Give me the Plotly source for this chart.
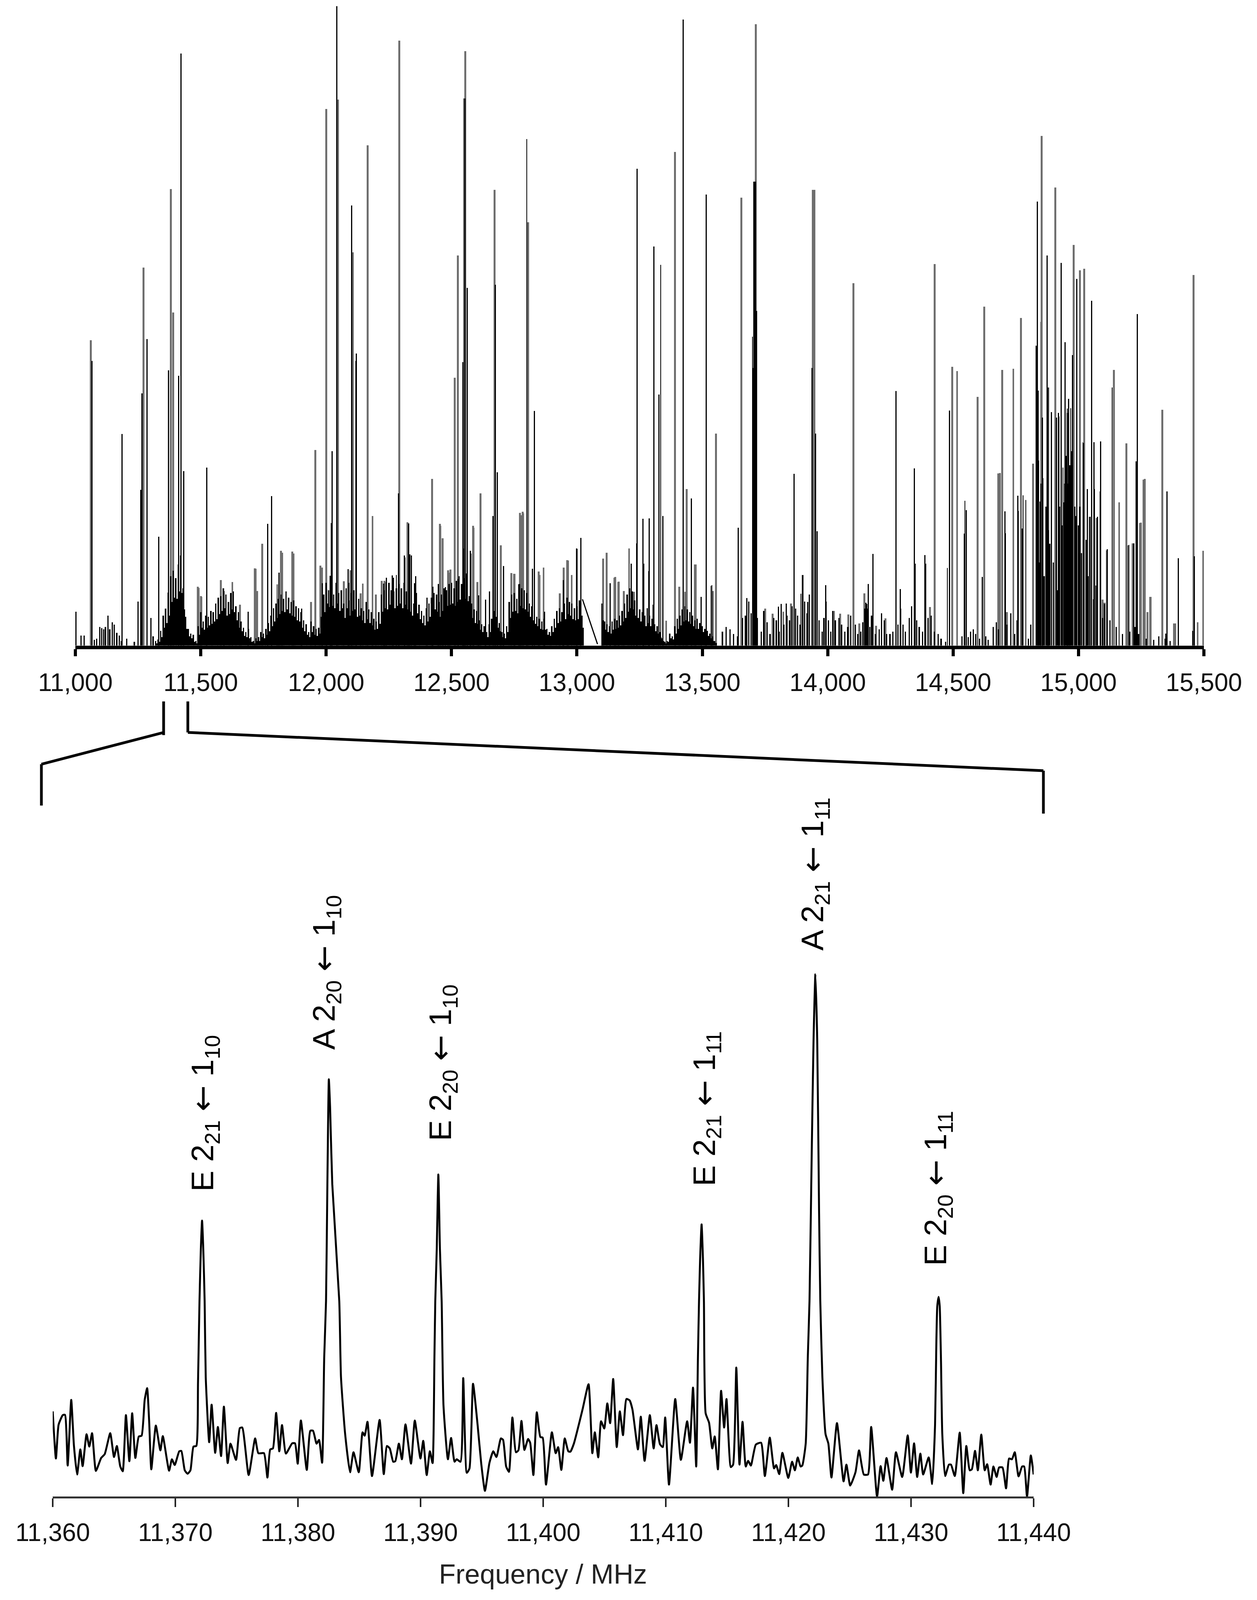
import plotly.graph_objects as go

PAGE_W = 3219
PAGE_H = 4179
FONT = "Liberation Sans"

# upper survey spectrum, MHz and relative intensity
band_a_freq = list(range(11320, 13030, 10))
band_a_int = [
    10, 13, 32, 65, 80, 115, 150, 162, 146, 175,
    195, 124, 62, 36, 26, 23, 10, 42, 72, 52,
    65, 62, 75, 72, 91, 104, 107, 124, 110, 94,
    114, 117, 85, 72, 52, 39, 29, 36, 18, 10,
    16, 18, 29, 26, 36, 49, 65, 81, 91, 101,
    110, 101, 117, 104, 94, 98, 85, 81, 72, 55,
    46, 29, 52, 42, 36, 39, 62, 110, 136, 120,
    127, 110, 136, 114, 120, 91, 124, 98, 114, 120,
    91, 101, 81, 75, 94, 78, 72, 58, 52, 72,
    110, 120, 114, 136, 120, 117, 124, 133, 124, 136,
    117, 110, 98, 91, 114, 88, 75, 65, 81, 91,
    104, 114, 110, 94, 110, 124, 120, 133, 136, 124,
    140, 150, 133, 146, 156, 107, 91, 78, 75, 55,
    46, 42, 29, 46, 58, 75, 62, 49, 29, 26,
    42, 94, 110, 114, 101, 133, 124, 120, 114, 91,
    85, 75, 62, 58, 52, 58, 36, 29, 42, 58,
    75, 81, 72, 91, 104, 94, 91, 81, 85, 98,
    65,
]
# lower solid part between the teeth of band a, same frequencies +5 MHz
floor_a_int = [
    5, 8, 18, 39, 49, 65, 94, 104, 101, 117,
    114, 78, 36, 20, 16, 8, 5, 23, 39, 34,
    39, 44, 47, 52, 57, 68, 75, 81, 65, 68,
    78, 72, 55, 39, 31, 21, 18, 16, 8, 5,
    10, 10, 18, 16, 23, 31, 42, 52, 60, 68,
    75, 72, 78, 70, 65, 62, 55, 52, 39, 31,
    23, 18, 29, 23, 21, 26, 39, 72, 91, 83,
    86, 81, 91, 75, 81, 60, 81, 65, 75, 78,
    62, 65, 55, 49, 57, 49, 44, 34, 36, 47,
    73, 81, 78, 88, 78, 81, 86, 91, 81, 88,
    78, 73, 65, 60, 70, 57, 49, 44, 52, 62,
    70, 78, 73, 62, 75, 81, 86, 88, 91, 86,
    94, 99, 91, 101, 96, 68, 60, 49, 47, 34,
    29, 23, 18, 29, 39, 49, 39, 31, 18, 16,
    29, 60, 73, 75, 70, 86, 81, 78, 73, 62,
    55, 47, 42, 36, 34, 34, 23, 21, 29, 39,
    49, 52, 49, 57, 68, 65, 57, 55, 57, 62,
    39,
]
band_b_freq = list(range(13100, 13560, 10))
band_b_int = [
    91, 52, 46, 42, 52, 58, 55, 65, 75, 91,
    110, 124, 117, 98, 94, 78, 72, 65, 81, 65,
    58, 46, 42, 29, 16, 8, 10, 26, 20, 42,
    58, 65, 78, 85, 78, 72, 65, 55, 58, 49,
    42, 36, 32, 26, 20, 10,
]
floor_b_int = [
    55, 34, 29, 26, 34, 36, 39, 44, 52, 60,
    73, 81, 78, 65, 60, 52, 44, 42, 49, 42,
    36, 31, 26, 18, 10, 5, 8, 16, 13, 26,
    36, 44, 52, 55, 52, 47, 42, 36, 36, 31,
    29, 23, 21, 16, 10, 6,
]

weak_freq = [
    11022, 11035, 11075, 11085, 11097, 11105, 11113, 11120, 11130, 11137,
    11147, 11155, 11165, 11175, 11183, 11205, 11235, 11310,
    13580, 13595, 13610, 13625, 13640, 13660, 13672, 13685, 13695, 13720,
    13735, 13745, 13758, 13770, 13785, 13795, 13806, 13815, 13825, 13838,
    13848, 13858, 13872, 13880, 13890, 13908, 13918, 13926, 13965, 13978,
    13985, 14003, 14012, 14020, 14030, 14045, 14055, 14068, 14080, 14092,
    14110, 14120, 14132, 14140, 14148, 14155, 14168, 14175, 14190, 14205,
    14215, 14225, 14235, 14248, 14260, 14280, 14290, 14300, 14310, 14325,
    14335, 14345, 14355, 14365, 14378, 14400, 14412, 14425, 14440, 14452,
    14470, 14535, 14560, 14570, 14580, 14590, 14605, 14630, 14640, 14660,
    14672, 14680, 14715, 14730, 14745, 14755, 14800, 14810, 14840, 14845,
    14850, 14863, 14870, 14880, 14885, 14900, 14915, 14925, 14935, 14942,
    14945, 14952, 14958, 14965, 14972, 14985, 14990, 15000, 15005, 15012,
    15030, 15038, 15060, 15070, 15096, 15104, 15125, 15150, 15175, 15205,
    15225, 15240, 15270, 15300, 15320, 15345, 15365,
]
weak_int = [
    22, 22, 12, 15, 40, 38, 35, 40, 65, 35,
    50, 45, 28, 22, 10, 15, 8, 20,
    30, 40, 35, 25, 20, 60, 65, 95, 70, 60,
    30, 75, 50, 25, 60, 55, 30, 90, 45, 65,
    55, 85, 80, 65, 45, 95, 70, 110, 55, 30,
    60, 55, 30, 75, 55, 60, 45, 30, 40, 65,
    45, 25, 30, 50, 80, 90, 40, 65, 25, 35,
    70, 55, 25, 25, 30, 45, 80, 45, 30, 60,
    85, 120, 55, 40, 30, 60, 65, 30, 25, 15,
    8, 20, 18, 30, 35, 25, 15, 20, 12, 40,
    50, 35, 45, 70, 25, 55, 15, 45, 400, 180,
    350, 150, 300, 250, 220, 180, 120, 300, 260, 310,
    350, 410, 350, 390, 420, 300, 280, 260, 300, 200,
    170, 150, 100, 130, 60, 90, 55, 40, 25, 30,
    40, 25, 15, 12, 20, 15, 10,
]

gray_freq = [
    11061, 11272, 11381, 11390, 11488, 11500, 11715, 11745, 11820, 11865,
    11957, 11977, 12001, 12048, 12106, 12166, 12185, 12222, 12232, 12292,
    12324, 12422, 12453, 12464, 12486, 12513, 12525, 12550, 12555, 12586,
    12615, 12672, 12697, 12739, 12750, 12773, 12784, 12806, 12961, 12848,
    12867, 13104, 13119, 13153, 13167, 13208, 13391, 13437, 13473, 13555,
    13655, 13713, 13941, 13944, 13947, 14103, 14427, 14497, 14516, 14598,
    14624, 14687, 14696, 14740, 14771, 14819, 14853, 14907, 14981, 15006,
    15023, 15141, 15162, 15191, 15249, 15264, 15288, 15334, 15459, 15386,
    15498,
    # smaller grey lines
    11492, 11502, 11580, 11626, 11656, 11719, 11725, 11805, 11825, 11870,
    11940, 11956, 11983, 12070, 12091, 12097, 12138, 12146, 12198, 12236,
    12313, 12456, 12465, 12488, 12495, 12577, 12588, 12603, 12696, 12751,
    12776, 12785, 12851, 12931, 12947, 12964, 12979, 13001, 13150, 13165,
    13187, 13227, 13356, 13408, 13432, 13470, 13535, 13542, 13751, 13780,
    13823, 13853, 13900, 14025, 14049, 14082, 14126, 14146, 14193, 14230,
    14408, 14680, 14715, 14851, 14879, 14938, 14955, 15019, 15044, 15073,
    15096, 15104, 15113, 15197, 15216, 15245, 15259, 15275, 15285, 15380,
    15475,
]
gray_int = [
    660, 817, 987, 720, 127, 107, 167, 220, 205, 203,
    423, 173, 1160, 1180, 850, 1081, 280, 140, 140, 1308,
    267, 360, 263, 232, 163, 579, 843, 1183, 1285, 259,
    329, 985, 217, 157, 155, 287, 289, 915, 185, 160,
    169, 188, 201, 148, 138, 210, 1067, 338, 175, 458,
    968, 1343, 985, 985, 985, 783, 825, 603, 593, 538,
    733, 373, 596, 598, 708, 393, 1102, 990, 866, 811,
    815, 596, 310, 437, 266, 360, 105, 510, 801, 48,
    205,
    125, 105, 142, 137, 88, 166, 118, 132, 201, 199,
    94, 107, 169, 139, 136, 163, 113, 134, 110, 137,
    191, 259, 229, 158, 164, 199, 255, 137, 215, 155,
    282, 286, 153, 113, 169, 184, 153, 209, 147, 137,
    118, 116, 54, 127, 116, 175, 129, 118, 80, 69,
    73, 91, 153, 75, 69, 67, 48, 113, 43, 59,
    83, 372, 72, 700, 558, 385, 503, 440, 278, 276,
    99, 93, 206, 217, 221, 265, 359, 72, 105, 48,
    50,
]
black_freq = [
    11003, 11066, 11186, 11250, 11261, 11265, 11286, 11301, 11332, 11372,
    11412, 11421, 11432, 11524, 11767, 11783, 12020, 12024, 12042, 12088,
    12102, 12118, 12121, 12263, 12289, 12312, 12334, 12352, 12546, 12553,
    12563, 12575, 12665, 12675, 12683, 12800, 12831, 12945, 12998, 13015,
    13100, 13239, 13240, 13266, 13288, 13307, 13327, 13334, 13343, 13423,
    13456, 13515, 13538, 13643, 13678, 13700, 13702, 13705, 13708, 13711,
    13717, 13866, 13900, 13937, 13951, 13958, 13994, 14152, 14161, 14181,
    14272, 14345, 14390, 14477, 14485, 14547, 14552, 14617, 14708, 14759,
    14779, 14790, 14831, 14836, 14839, 14856, 14875, 14878, 14892, 14921,
    14931, 14947, 14960, 14969, 14976, 14993, 15020, 15046, 15053, 15063,
    15076, 15088, 15114, 15134, 15201, 15220, 15230, 15235, 15353, 15462,
    # smaller black lines
    11592, 11689, 11812, 11903, 11985, 12016, 12002, 12229, 12240, 12268,
    12280, 12329, 12340, 12357, 12402, 12425, 12447, 12475, 12527, 12547,
    12608, 12636, 12651, 12708, 12768, 12823, 12871, 13132, 13217, 13263,
    13286, 13303, 13495, 13677, 13803, 13835, 13893, 13921, 13992, 14160,
    14290, 14348, 14387, 14544, 14707, 14758, 14775, 14846, 14858, 14912,
    14920, 14955, 14965, 15030, 15035, 15061, 15086, 15348, 15398, 15456,
    15484,
]
black_int = [
    73, 615, 457, 95, 337, 545, 663, 60, 235, 595,
    583, 1280, 377, 385, 263, 323, 265, 420, 1383, 165,
    951, 615, 631, 152, 329, 195, 197, 135, 613, 1183,
    773, 205, 280, 780, 375, 1095, 507, 142, 210, 233,
    88, 221, 1031, 177, 275, 863, 543, 823, 280, 1353,
    318, 975, 131, 255, 103, 668, 600, 1003, 1003, 1003,
    723, 371, 153, 600, 458, 247, 95, 93, 133, 198,
    550, 383, 177, 168, 508, 313, 293, 148, 243, 291,
    325, 315, 648, 960, 551, 493, 843, 558, 505, 495,
    827, 656, 533, 513, 628, 793, 438, 278, 745, 338,
    278, 441, 208, 558, 218, 221, 398, 717, 333, 193,
    118, 73, 158, 80, 135, 151, 121, 134, 147,
    147, 153, 264, 195, 150, 104, 127, 133, 126, 144, 210,
    109, 99, 117, 172, 132, 166, 73, 135, 177,
    274, 161, 88, 105, 91, 84, 91, 112, 94, 131,
    80, 122, 177, 196, 242, 290, 324, 253, 311, 362,
    493, 503, 512, 190, 229, 338, 440, 333, 26, 189,
    32,
]

# the gap in the survey, drawn as one sloping line
gap_freq = [13022, 13082]
gap_int = [100, 3]

top_ticks = [11000, 11500, 12000, 12500, 13000, 13500, 14000, 14500, 15000, 15500]

# lower expanded spectrum, MHz above 11,360 and relative intensity
low_offset = [
    0.00, 0.26, 0.48, 0.82, 1.00, 1.22, 1.51, 1.73, 1.99, 2.25, 2.44, 2.76, 2.98, 3.21, 3.52,
    3.95, 4.24, 4.69, 5.00, 5.23, 5.51, 5.71, 5.97, 6.25, 6.48, 6.74, 7.02, 7.25, 7.50, 7.70,
    7.87, 8.04, 8.41, 8.78, 8.98, 9.49, 9.72, 9.95, 10.32, 10.49, 10.77, 11.00, 11.23, 11.48, 11.71,
    11.85, 11.97, 12.08, 12.18, 12.28, 12.39, 12.48, 12.76, 12.96, 13.25, 13.47, 13.73, 13.96, 14.27, 14.50,
    14.95, 15.26, 15.46, 15.98, 16.51, 16.77, 17.23, 17.51, 17.74, 17.96, 18.22, 18.48, 18.70, 19.02, 19.53,
    19.76, 19.98, 20.24, 20.72, 21.01, 21.23, 21.52, 21.72, 21.97, 22.14, 22.29, 22.40, 22.52, 22.62, 22.80,
    23.37, 23.51, 23.85, 24.25, 24.53, 24.96, 25.27, 25.44, 25.67, 26.04, 26.66, 27.00, 27.26, 27.49, 27.77,
    27.94, 28.23, 28.48, 28.77, 29.22, 29.53, 29.99, 30.22, 30.50, 30.76, 30.98, 31.13, 31.20, 31.32, 31.45,
    31.58, 31.72, 31.87, 32.23, 32.49, 32.77, 32.95, 33.26, 33.48, 33.77, 33.99, 34.28, 34.65, 34.94, 35.25,
    35.62, 35.93, 36.19, 36.55, 36.73, 36.98, 37.21, 37.49, 37.78, 37.98, 38.23, 38.47, 38.77, 38.94, 39.20,
    39.48, 39.77, 39.96, 40.23, 40.71, 41.02, 41.22, 41.48, 41.76, 42.05, 42.22, 42.50, 43.21, 43.70, 44.01,
    44.21, 44.49, 44.72, 44.98, 45.23, 45.46, 45.71, 46.00, 46.25, 46.51, 46.79, 47.05, 47.28, 47.73, 47.96,
    48.27, 48.70, 49.01, 49.24, 49.52, 49.75, 49.95, 50.26, 50.77, 51.23, 51.74, 51.97, 52.22, 52.48, 52.62,
    52.71, 52.80, 52.92, 53.03, 53.11, 53.25, 53.53, 53.79, 53.99, 54.25, 54.51, 54.76, 54.95, 55.30, 55.49,
    55.75, 56.01, 56.26, 56.52, 56.72, 56.94, 57.34, 57.77, 58.08, 58.48, 58.83, 59.00, 59.25, 59.51, 59.99,
    60.30, 60.53, 60.76, 60.99, 61.13, 61.41, 61.58, 61.72, 61.90, 62.05, 62.20, 62.35, 62.50, 62.60, 62.77,
    63.03, 63.26, 63.51, 63.96, 64.50, 64.73, 65.04, 65.47, 65.76, 66.15, 66.49, 66.75, 67.23, 67.52, 67.74,
    68.00, 68.46, 68.77, 69.28, 69.73, 69.99, 70.25, 70.50, 70.76, 70.99, 71.44, 71.73, 71.96, 72.07, 72.14,
    72.25, 72.34, 72.44, 72.55, 72.78, 73.09, 73.26, 73.57, 73.97, 74.26, 74.51, 74.79, 74.96, 75.22, 75.45,
    75.73, 76.01, 76.21, 76.49, 76.72, 76.98, 77.18, 77.46, 77.75, 78.00, 78.23, 78.46, 78.77, 79.06, 79.23,
    79.46, 79.77, 80.00,
]
low_int = [
    448, 200, 378, 428, 430, 163, 508, 268, 116, 248, 160, 328, 263, 333, 135,
    203, 223, 333, 208, 266, 158, 133, 428, 186, 438, 203, 316, 320, 508, 570,
    388, 143, 373, 243, 318, 136, 196, 166, 238, 240, 138, 120, 138, 263, 266,
    600, 1028, 1300, 1451, 1300, 1028, 628, 286, 483, 230, 366, 213, 473, 176, 278,
    193, 360, 363, 113, 306, 228, 228, 100, 248, 253, 440, 238, 376, 226, 280,
    280, 173, 400, 140, 346, 346, 278, 298, 178, 728, 1028, 1642, 2194, 2050, 1642,
    1028, 628, 328, 128, 233, 128, 338, 320, 393, 108, 403, 118, 266, 253, 183,
    186, 278, 196, 380, 173, 400, 200, 293, 113, 238, 176, 728, 1028, 1300, 1693,
    1300, 1028, 478, 196, 308, 183, 196, 183, 623, 125, 148, 593, 378, 178, 30,
    178, 238, 208, 306, 298, 158, 130, 416, 233, 243, 398, 245, 303, 283, 113,
    443, 313, 310, 63, 338, 228, 260, 140, 306, 238, 236, 278, 458, 591, 228,
    338, 206, 396, 358, 490, 386, 618, 260, 448, 323, 513, 506, 458, 248, 420,
    188, 428, 253, 376, 276, 260, 416, 63, 513, 193, 396, 283, 573, 158, 728,
    1028, 1250, 1431, 1250, 1028, 438, 388, 253, 316, 143, 556, 363, 513, 155, 168,
    678, 168, 393, 158, 188, 163, 273, 283, 108, 310, 148, 166, 118, 230, 98,
    183, 138, 206, 158, 163, 278, 728, 1028, 1800, 2400, 2746, 2400, 1500, 1028, 628,
    328, 278, 100, 386, 80, 168, 58, 128, 243, 116, 116, 366, 0, 160, 83,
    203, 36, 233, 103, 322, 126, 280, 103, 226, 116, 206, 66, 378, 828, 1000,
    1050, 1000, 728, 328, 108, 168, 168, 108, 336, 18, 266, 138, 143, 240, 138,
    326, 138, 170, 63, 158, 103, 153, 153, 43, 200, 196, 233, 106, 158, 158,
    0, 216, 116,
]
low_ticks = [11360, 11370, 11380, 11390, 11400, 11410, 11420, 11430, 11440]
low_freq = [11360 + d for d in low_offset]

ARROW = '<span style="font-family:DejaVu Sans">←</span>'
peak_labels = [
    f"E 2<sub>21</sub> {ARROW} 1<sub>10</sub>",
    f"A 2<sub>20</sub> {ARROW} 1<sub>10</sub>",
    f"E 2<sub>20</sub> {ARROW} 1<sub>10</sub>",
    f"E 2<sub>21</sub> {ARROW} 1<sub>11</sub>",
    f"A 2<sub>21</sub> {ARROW} 1<sub>11</sub>",
    f"E 2<sub>20</sub> {ARROW} 1<sub>11</sub>",
]
label_x = [523, 835, 1133, 1808, 2086, 2400]
label_y = [2908, 2540, 2776, 2896, 2283, 3104]

# the browser leaves an 8 px body margin round the plot
W = PAGE_W - 16
H = PAGE_H - 16


def px(x):
    return (x - 8) / W


def py(y):
    return 1 - (y - 8) / H


fig = go.Figure()

fig.add_trace(go.Bar(x=gray_freq, y=gray_int, width=7.5, marker=dict(color="#6e6e6e", line_width=0)))
fig.add_trace(go.Bar(x=weak_freq, y=weak_int, width=5, marker=dict(color="#000000", line_width=0)))
fig.add_trace(go.Bar(x=band_a_freq, y=band_a_int, width=5.5, marker=dict(color="#000000", line_width=0)))
fig.add_trace(go.Bar(x=band_b_freq, y=band_b_int, width=5.5, marker=dict(color="#000000", line_width=0)))
fig.add_trace(go.Bar(
    x=[f + 5 for f in band_a_freq], y=floor_a_int, width=5.5, marker=dict(color="#000000", line_width=0),
))
fig.add_trace(go.Bar(
    x=[f + 5 for f in band_b_freq], y=floor_b_int, width=5.5, marker=dict(color="#000000", line_width=0),
))
fig.add_trace(go.Bar(x=black_freq, y=black_int, width=4.5, marker=dict(color="#000000", line_width=0)))
fig.add_trace(go.Scatter(x=gap_freq, y=gap_int, mode="lines", line=dict(color="#000000", width=3)))

fig.add_trace(go.Scatter(
    x=low_freq, y=low_int, mode="lines", xaxis="x2", yaxis="y2",
    line=dict(color="#000000", width=5, shape="spline", smoothing=0.5),
))

# bracket from the survey to the expanded part
bracket = [
    ((419, 1832), (419, 1920)),
    ((419, 1913), (106, 1996)),
    ((106, 1996), (106, 2104)),
    ((481, 1832), (481, 1913)),
    ((481, 1913), (2672, 2013)),
    ((2672, 2013), (2672, 2125)),
]
for a, b in bracket:
    fig.add_shape(
        type="line", xref="paper", yref="paper",
        x0=px(a[0]), y0=py(a[1]), x1=px(b[0]), y1=py(b[1]),
        line=dict(color="#000000", width=7),
    )

for text, x, y in zip(peak_labels, label_x, label_y):
    fig.add_annotation(
        text=text, xref="paper", yref="paper", x=px(x), y=py(y),
        textangle=-90, showarrow=False, xanchor="center", yanchor="middle",
        font=dict(family=FONT, size=80, color="#000000"),
    )

fig.add_annotation(
    text="Frequency / MHz", xref="paper", yref="paper", x=px(1390), y=py(4112),
    showarrow=False, xanchor="center", yanchor="middle",
    font=dict(family=FONT, size=70, color="#222222"),
)

# no fixed width or height: the figure fills whatever the window gives it
fig.update_layout(
    margin=dict(l=0, r=0, t=0, b=0),
    paper_bgcolor="white",
    plot_bgcolor="white",
    showlegend=False,
    barmode="overlay",
    bargap=0,
    font=dict(family=FONT, color="#111111"),
    xaxis=dict(
        domain=[px(193), px(3083)], range=[11000, 15500], anchor="y", automargin=False,
        tickvals=top_ticks, tickformat=",", ticks="outside", ticklen=18, tickwidth=8,
        tickcolor="#000000", showline=True, linecolor="#000000", linewidth=9,
        showgrid=False, zeroline=False, ticklabelstandoff=13,
        tickfont=dict(family=FONT, size=64, color="#111111"),
    ),
    yaxis=dict(
        domain=[py(1686), py(16)], range=[0, 1382], anchor="x", automargin=False,
        visible=False, showgrid=False, zeroline=False,
    ),
    xaxis2=dict(
        domain=[px(135), px(2647)], range=[11360, 11440], anchor="y2", automargin=False,
        tickvals=low_ticks, tickformat=",", ticks="outside", ticklen=22, tickwidth=4,
        tickcolor="#222222", showline=True, linecolor="#333333", linewidth=5,
        showgrid=False, zeroline=False, ticklabelstandoff=10,
        tickfont=dict(family=FONT, size=64, color="#111111"),
    ),
    yaxis2=dict(
        domain=[py(3909), py(2500)], range=[0, 2836], anchor="x2", automargin=False,
        visible=False, showgrid=False, zeroline=False,
    ),
)

fig.write_html("out.html")
